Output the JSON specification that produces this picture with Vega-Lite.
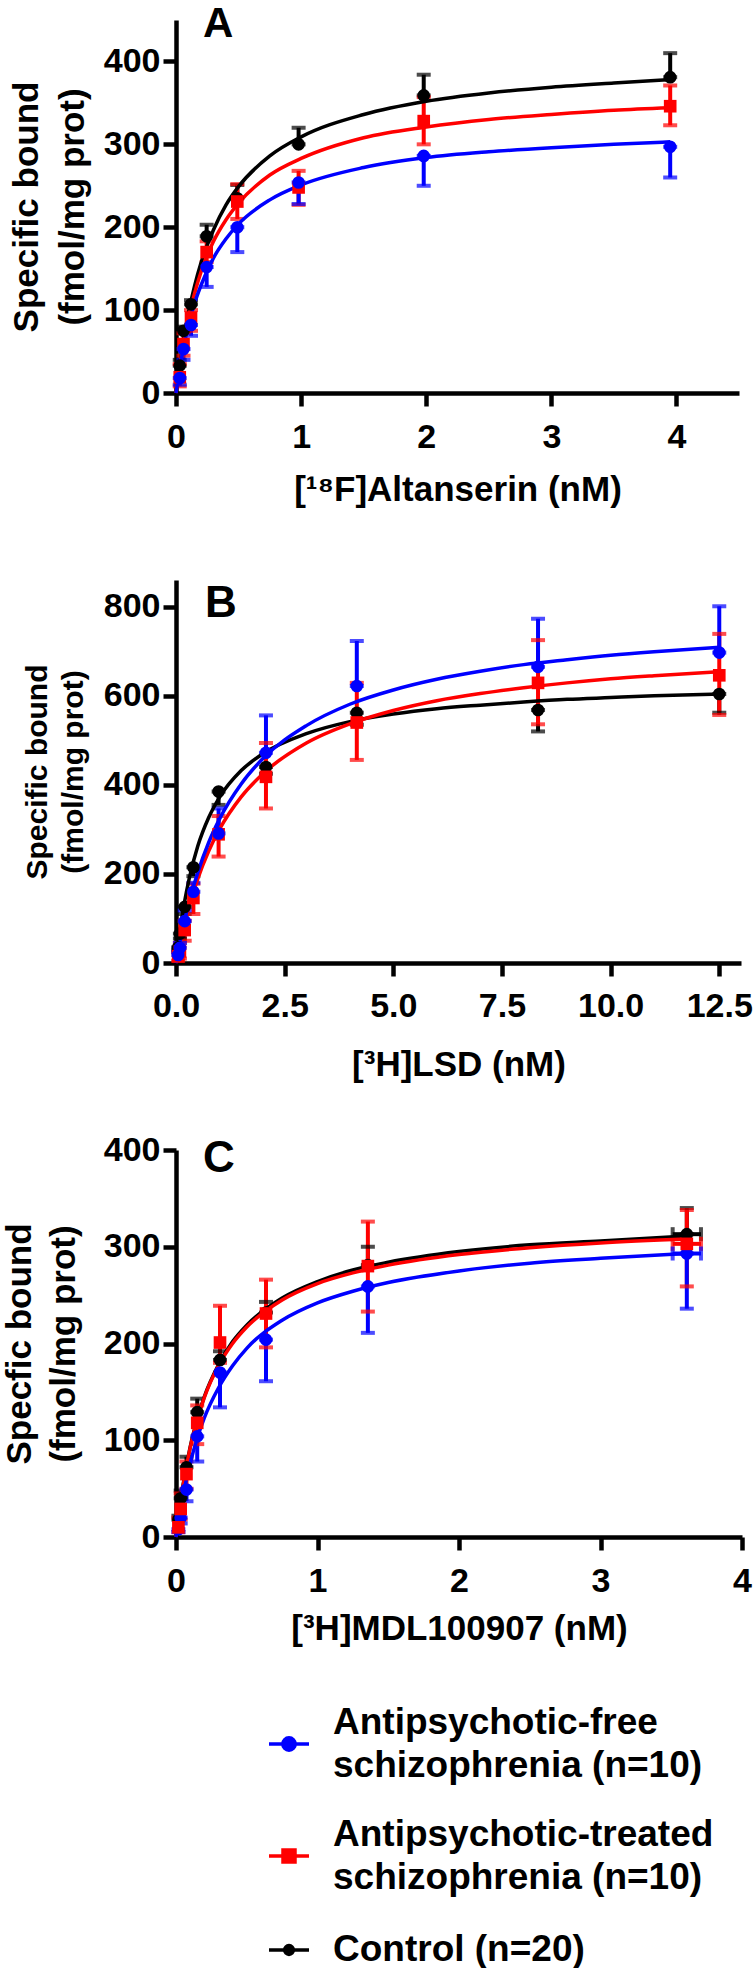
{
  "$schema": "https://vega.github.io/schema/vega-lite/v6.json",
  "background": "white",
  "padding": {"left": 2, "top": 3, "right": 0, "bottom": 0},
  "config": {
    "view": {"stroke": null},
    "font": "Liberation Sans",
    "axis": {
      "grid": false, "domainColor": "black", "domainWidth": 4.5, "tickColor": "black", "tickWidth": 4.5, "tickSize": 13,
      "labelFont": "Liberation Sans", "labelFontSize": 34, "labelFontWeight": "bold", "labelColor": "black",
      "labelFlush": false, "labelOverlap": false, "labelPadding": 3,
      "titleFont": "Liberation Sans", "titleFontSize": 35, "titleFontWeight": "bold", "titleColor": "black"
    },
    "title": {"font": "Liberation Sans", "fontWeight": "bold", "color": "black", "anchor": "start", "frame": "group", "offset": 0, "baseline": "alphabetic"}
  },
  "datasets": {
    "points": [
      {"panel": "A", "group": "Control", "x": 0.03, "y": 33, "lo": 33, "hi": 40},
      {"panel": "A", "group": "Control", "x": 0.06, "y": 75, "lo": 75, "hi": 80},
      {"panel": "A", "group": "Control", "x": 0.12, "y": 107, "lo": 107, "hi": 112},
      {"panel": "A", "group": "Control", "x": 0.245, "y": 189, "lo": 189, "hi": 203},
      {"panel": "A", "group": "Control", "x": 0.49, "y": 235, "lo": 235, "hi": 251},
      {"panel": "A", "group": "Control", "x": 0.98, "y": 300, "lo": 300, "hi": 320},
      {"panel": "A", "group": "Control", "x": 1.98, "y": 359, "lo": 359, "hi": 384},
      {"panel": "A", "group": "Control", "x": 3.95, "y": 381, "lo": 381, "hi": 410},
      {"panel": "A", "group": "Antipsychotic-treated", "x": 0.03, "y": 19, "lo": 8, "hi": 35},
      {"panel": "A", "group": "Antipsychotic-treated", "x": 0.06, "y": 59, "lo": 45, "hi": 72},
      {"panel": "A", "group": "Antipsychotic-treated", "x": 0.12, "y": 91, "lo": 75, "hi": 100},
      {"panel": "A", "group": "Antipsychotic-treated", "x": 0.245, "y": 170, "lo": 158, "hi": 183},
      {"panel": "A", "group": "Antipsychotic-treated", "x": 0.49, "y": 231, "lo": 210, "hi": 252},
      {"panel": "A", "group": "Antipsychotic-treated", "x": 0.98, "y": 248, "lo": 227, "hi": 268},
      {"panel": "A", "group": "Antipsychotic-treated", "x": 1.98, "y": 328, "lo": 300, "hi": 357},
      {"panel": "A", "group": "Antipsychotic-treated", "x": 3.95, "y": 346, "lo": 323, "hi": 371},
      {"panel": "A", "group": "Antipsychotic-free", "x": 0.03, "y": 18, "lo": 10, "hi": 18},
      {"panel": "A", "group": "Antipsychotic-free", "x": 0.06, "y": 53, "lo": 40, "hi": 53},
      {"panel": "A", "group": "Antipsychotic-free", "x": 0.12, "y": 82, "lo": 69, "hi": 82},
      {"panel": "A", "group": "Antipsychotic-free", "x": 0.245, "y": 152, "lo": 128, "hi": 152},
      {"panel": "A", "group": "Antipsychotic-free", "x": 0.49, "y": 200, "lo": 170, "hi": 200},
      {"panel": "A", "group": "Antipsychotic-free", "x": 0.98, "y": 254, "lo": 228, "hi": 254},
      {"panel": "A", "group": "Antipsychotic-free", "x": 1.98, "y": 286, "lo": 250, "hi": 286},
      {"panel": "A", "group": "Antipsychotic-free", "x": 3.95, "y": 297, "lo": 260, "hi": 297},

      {"panel": "B", "group": "Control", "x": 0.05, "y": 35, "lo": 28, "hi": 35},
      {"panel": "B", "group": "Control", "x": 0.09, "y": 66, "lo": 55, "hi": 66},
      {"panel": "B", "group": "Control", "x": 0.2, "y": 126, "lo": 110, "hi": 126},
      {"panel": "B", "group": "Control", "x": 0.4, "y": 215, "lo": 195, "hi": 215},
      {"panel": "B", "group": "Control", "x": 0.98, "y": 385, "lo": 355, "hi": 385},
      {"panel": "B", "group": "Control", "x": 2.07, "y": 440, "lo": 425, "hi": 440},
      {"panel": "B", "group": "Control", "x": 4.16, "y": 562, "lo": 535, "hi": 562},
      {"panel": "B", "group": "Control", "x": 8.33, "y": 568, "lo": 520, "hi": 568},
      {"panel": "B", "group": "Control", "x": 12.5, "y": 604, "lo": 562, "hi": 604},
      {"panel": "B", "group": "Antipsychotic-treated", "x": 0.05, "y": 15, "lo": 5, "hi": 25},
      {"panel": "B", "group": "Antipsychotic-treated", "x": 0.09, "y": 26, "lo": 10, "hi": 45},
      {"panel": "B", "group": "Antipsychotic-treated", "x": 0.2, "y": 74, "lo": 50, "hi": 95},
      {"panel": "B", "group": "Antipsychotic-treated", "x": 0.4, "y": 146, "lo": 110, "hi": 178},
      {"panel": "B", "group": "Antipsychotic-treated", "x": 0.98, "y": 289, "lo": 239, "hi": 330},
      {"panel": "B", "group": "Antipsychotic-treated", "x": 2.07, "y": 418, "lo": 347, "hi": 494},
      {"panel": "B", "group": "Antipsychotic-treated", "x": 4.16, "y": 540, "lo": 456, "hi": 629},
      {"panel": "B", "group": "Antipsychotic-treated", "x": 8.33, "y": 629, "lo": 536, "hi": 725},
      {"panel": "B", "group": "Antipsychotic-treated", "x": 12.5, "y": 646, "lo": 557, "hi": 739},
      {"panel": "B", "group": "Antipsychotic-free", "x": 0.05, "y": 18, "lo": 18, "hi": 25},
      {"panel": "B", "group": "Antipsychotic-free", "x": 0.09, "y": 34, "lo": 34, "hi": 45},
      {"panel": "B", "group": "Antipsychotic-free", "x": 0.2, "y": 94, "lo": 94, "hi": 118},
      {"panel": "B", "group": "Antipsychotic-free", "x": 0.4, "y": 160, "lo": 160, "hi": 180},
      {"panel": "B", "group": "Antipsychotic-free", "x": 0.98, "y": 291, "lo": 291, "hi": 347},
      {"panel": "B", "group": "Antipsychotic-free", "x": 2.07, "y": 472, "lo": 472, "hi": 556},
      {"panel": "B", "group": "Antipsychotic-free", "x": 4.16, "y": 622, "lo": 622, "hi": 723},
      {"panel": "B", "group": "Antipsychotic-free", "x": 8.33, "y": 665, "lo": 665, "hi": 773},
      {"panel": "B", "group": "Antipsychotic-free", "x": 12.5, "y": 697, "lo": 697, "hi": 801},

      {"panel": "C", "group": "Control", "x": 0.017, "y": 18, "lo": 18, "hi": 22},
      {"panel": "C", "group": "Control", "x": 0.033, "y": 40, "lo": 40, "hi": 48},
      {"panel": "C", "group": "Control", "x": 0.074, "y": 72, "lo": 72, "hi": 83},
      {"panel": "C", "group": "Control", "x": 0.15, "y": 129, "lo": 129, "hi": 143},
      {"panel": "C", "group": "Control", "x": 0.311, "y": 183, "lo": 183, "hi": 192},
      {"panel": "C", "group": "Control", "x": 0.636, "y": 232, "lo": 232, "hi": 243},
      {"panel": "C", "group": "Control", "x": 1.356, "y": 281, "lo": 281, "hi": 300},
      {"panel": "C", "group": "Control", "x": 3.61, "y": 313, "lo": 313, "hi": 340, "xlo": 3.51, "xhi": 3.71},
      {"panel": "C", "group": "Antipsychotic-treated", "x": 0.017, "y": 10, "lo": 5, "hi": 20},
      {"panel": "C", "group": "Antipsychotic-treated", "x": 0.033, "y": 29, "lo": 18, "hi": 45},
      {"panel": "C", "group": "Antipsychotic-treated", "x": 0.074, "y": 65, "lo": 50, "hi": 78},
      {"panel": "C", "group": "Antipsychotic-treated", "x": 0.15, "y": 118, "lo": 96, "hi": 136},
      {"panel": "C", "group": "Antipsychotic-treated", "x": 0.311, "y": 201, "lo": 180, "hi": 239},
      {"panel": "C", "group": "Antipsychotic-treated", "x": 0.636, "y": 231, "lo": 196, "hi": 266},
      {"panel": "C", "group": "Antipsychotic-treated", "x": 1.356, "y": 280, "lo": 233, "hi": 326},
      {"panel": "C", "group": "Antipsychotic-treated", "x": 3.61, "y": 303, "lo": 259, "hi": 338, "xlo": 3.51, "xhi": 3.71},
      {"panel": "C", "group": "Antipsychotic-free", "x": 0.017, "y": 8, "lo": 5, "hi": 8},
      {"panel": "C", "group": "Antipsychotic-free", "x": 0.033, "y": 20, "lo": 14, "hi": 20},
      {"panel": "C", "group": "Antipsychotic-free", "x": 0.074, "y": 49, "lo": 37, "hi": 49},
      {"panel": "C", "group": "Antipsychotic-free", "x": 0.15, "y": 104, "lo": 78, "hi": 104},
      {"panel": "C", "group": "Antipsychotic-free", "x": 0.311, "y": 170, "lo": 134, "hi": 170},
      {"panel": "C", "group": "Antipsychotic-free", "x": 0.636, "y": 204, "lo": 161, "hi": 204},
      {"panel": "C", "group": "Antipsychotic-free", "x": 1.356, "y": 259, "lo": 211, "hi": 259},
      {"panel": "C", "group": "Antipsychotic-free", "x": 3.61, "y": 293, "lo": 236, "hi": 293, "xlo": 3.51, "xhi": 3.71}
    ],
    "curves": [
      {"panel": "A", "group": "Control", "x": 0, "y": 0},
      {"panel": "A", "group": "Control", "x": 0.05, "y": 55},
      {"panel": "A", "group": "Control", "x": 0.1, "y": 97},
      {"panel": "A", "group": "Control", "x": 0.15, "y": 130},
      {"panel": "A", "group": "Control", "x": 0.2, "y": 157},
      {"panel": "A", "group": "Control", "x": 0.3, "y": 197},
      {"panel": "A", "group": "Control", "x": 0.4, "y": 227},
      {"panel": "A", "group": "Control", "x": 0.5, "y": 249},
      {"panel": "A", "group": "Control", "x": 0.75, "y": 286},
      {"panel": "A", "group": "Control", "x": 1, "y": 309},
      {"panel": "A", "group": "Control", "x": 1.5, "y": 336},
      {"panel": "A", "group": "Control", "x": 2, "y": 352},
      {"panel": "A", "group": "Control", "x": 2.5, "y": 362},
      {"panel": "A", "group": "Control", "x": 3, "y": 369},
      {"panel": "A", "group": "Control", "x": 3.5, "y": 374},
      {"panel": "A", "group": "Control", "x": 3.95, "y": 378},
      {"panel": "A", "group": "Antipsychotic-treated", "x": 0, "y": 0},
      {"panel": "A", "group": "Antipsychotic-treated", "x": 0.05, "y": 52},
      {"panel": "A", "group": "Antipsychotic-treated", "x": 0.1, "y": 91},
      {"panel": "A", "group": "Antipsychotic-treated", "x": 0.15, "y": 121},
      {"panel": "A", "group": "Antipsychotic-treated", "x": 0.2, "y": 146},
      {"panel": "A", "group": "Antipsychotic-treated", "x": 0.3, "y": 183},
      {"panel": "A", "group": "Antipsychotic-treated", "x": 0.4, "y": 209},
      {"panel": "A", "group": "Antipsychotic-treated", "x": 0.5, "y": 229},
      {"panel": "A", "group": "Antipsychotic-treated", "x": 0.75, "y": 263},
      {"panel": "A", "group": "Antipsychotic-treated", "x": 1, "y": 283},
      {"panel": "A", "group": "Antipsychotic-treated", "x": 1.5, "y": 308},
      {"panel": "A", "group": "Antipsychotic-treated", "x": 2, "y": 321},
      {"panel": "A", "group": "Antipsychotic-treated", "x": 2.5, "y": 330},
      {"panel": "A", "group": "Antipsychotic-treated", "x": 3, "y": 336},
      {"panel": "A", "group": "Antipsychotic-treated", "x": 3.5, "y": 341},
      {"panel": "A", "group": "Antipsychotic-treated", "x": 3.95, "y": 344},
      {"panel": "A", "group": "Antipsychotic-free", "x": 0, "y": 0},
      {"panel": "A", "group": "Antipsychotic-free", "x": 0.05, "y": 47},
      {"panel": "A", "group": "Antipsychotic-free", "x": 0.1, "y": 82},
      {"panel": "A", "group": "Antipsychotic-free", "x": 0.15, "y": 109},
      {"panel": "A", "group": "Antipsychotic-free", "x": 0.2, "y": 130},
      {"panel": "A", "group": "Antipsychotic-free", "x": 0.3, "y": 163},
      {"panel": "A", "group": "Antipsychotic-free", "x": 0.4, "y": 186},
      {"panel": "A", "group": "Antipsychotic-free", "x": 0.5, "y": 204},
      {"panel": "A", "group": "Antipsychotic-free", "x": 0.75, "y": 233},
      {"panel": "A", "group": "Antipsychotic-free", "x": 1, "y": 251},
      {"panel": "A", "group": "Antipsychotic-free", "x": 1.5, "y": 272},
      {"panel": "A", "group": "Antipsychotic-free", "x": 2, "y": 284},
      {"panel": "A", "group": "Antipsychotic-free", "x": 2.5, "y": 291},
      {"panel": "A", "group": "Antipsychotic-free", "x": 3, "y": 296},
      {"panel": "A", "group": "Antipsychotic-free", "x": 3.5, "y": 300},
      {"panel": "A", "group": "Antipsychotic-free", "x": 3.95, "y": 303},

      {"panel": "B", "group": "Control", "x": 0, "y": 0},
      {"panel": "B", "group": "Control", "x": 0.1, "y": 78},
      {"panel": "B", "group": "Control", "x": 0.2, "y": 139},
      {"panel": "B", "group": "Control", "x": 0.3, "y": 188},
      {"panel": "B", "group": "Control", "x": 0.5, "y": 262},
      {"panel": "B", "group": "Control", "x": 0.75, "y": 326},
      {"panel": "B", "group": "Control", "x": 1, "y": 372},
      {"panel": "B", "group": "Control", "x": 1.5, "y": 432},
      {"panel": "B", "group": "Control", "x": 2, "y": 470},
      {"panel": "B", "group": "Control", "x": 3, "y": 515},
      {"panel": "B", "group": "Control", "x": 4, "y": 542},
      {"panel": "B", "group": "Control", "x": 5, "y": 559},
      {"panel": "B", "group": "Control", "x": 6, "y": 571},
      {"panel": "B", "group": "Control", "x": 7, "y": 579},
      {"panel": "B", "group": "Control", "x": 8, "y": 586},
      {"panel": "B", "group": "Control", "x": 9, "y": 592},
      {"panel": "B", "group": "Control", "x": 10, "y": 596},
      {"panel": "B", "group": "Control", "x": 11, "y": 600},
      {"panel": "B", "group": "Control", "x": 12.5, "y": 604},
      {"panel": "B", "group": "Antipsychotic-treated", "x": 0, "y": 0},
      {"panel": "B", "group": "Antipsychotic-treated", "x": 0.1, "y": 48},
      {"panel": "B", "group": "Antipsychotic-treated", "x": 0.2, "y": 89},
      {"panel": "B", "group": "Antipsychotic-treated", "x": 0.3, "y": 126},
      {"panel": "B", "group": "Antipsychotic-treated", "x": 0.5, "y": 189},
      {"panel": "B", "group": "Antipsychotic-treated", "x": 0.75, "y": 251},
      {"panel": "B", "group": "Antipsychotic-treated", "x": 1, "y": 300},
      {"panel": "B", "group": "Antipsychotic-treated", "x": 1.5, "y": 373},
      {"panel": "B", "group": "Antipsychotic-treated", "x": 2, "y": 425},
      {"panel": "B", "group": "Antipsychotic-treated", "x": 3, "y": 494},
      {"panel": "B", "group": "Antipsychotic-treated", "x": 4, "y": 537},
      {"panel": "B", "group": "Antipsychotic-treated", "x": 5, "y": 567},
      {"panel": "B", "group": "Antipsychotic-treated", "x": 6, "y": 589},
      {"panel": "B", "group": "Antipsychotic-treated", "x": 7, "y": 605},
      {"panel": "B", "group": "Antipsychotic-treated", "x": 8, "y": 618},
      {"panel": "B", "group": "Antipsychotic-treated", "x": 9, "y": 629},
      {"panel": "B", "group": "Antipsychotic-treated", "x": 10, "y": 638},
      {"panel": "B", "group": "Antipsychotic-treated", "x": 11, "y": 645},
      {"panel": "B", "group": "Antipsychotic-treated", "x": 12.5, "y": 654},
      {"panel": "B", "group": "Antipsychotic-free", "x": 0, "y": 0},
      {"panel": "B", "group": "Antipsychotic-free", "x": 0.1, "y": 51},
      {"panel": "B", "group": "Antipsychotic-free", "x": 0.2, "y": 96},
      {"panel": "B", "group": "Antipsychotic-free", "x": 0.3, "y": 136},
      {"panel": "B", "group": "Antipsychotic-free", "x": 0.5, "y": 203},
      {"panel": "B", "group": "Antipsychotic-free", "x": 0.75, "y": 270},
      {"panel": "B", "group": "Antipsychotic-free", "x": 1, "y": 323},
      {"panel": "B", "group": "Antipsychotic-free", "x": 1.5, "y": 402},
      {"panel": "B", "group": "Antipsychotic-free", "x": 2, "y": 459},
      {"panel": "B", "group": "Antipsychotic-free", "x": 3, "y": 533},
      {"panel": "B", "group": "Antipsychotic-free", "x": 4, "y": 581},
      {"panel": "B", "group": "Antipsychotic-free", "x": 5, "y": 613},
      {"panel": "B", "group": "Antipsychotic-free", "x": 6, "y": 637},
      {"panel": "B", "group": "Antipsychotic-free", "x": 7, "y": 655},
      {"panel": "B", "group": "Antipsychotic-free", "x": 8, "y": 670},
      {"panel": "B", "group": "Antipsychotic-free", "x": 9, "y": 681},
      {"panel": "B", "group": "Antipsychotic-free", "x": 10, "y": 691},
      {"panel": "B", "group": "Antipsychotic-free", "x": 11, "y": 699},
      {"panel": "B", "group": "Antipsychotic-free", "x": 12.5, "y": 709},

      {"panel": "C", "group": "Control", "x": 0, "y": 0},
      {"panel": "C", "group": "Control", "x": 0.02, "y": 24},
      {"panel": "C", "group": "Control", "x": 0.05, "y": 54},
      {"panel": "C", "group": "Control", "x": 0.1, "y": 93},
      {"panel": "C", "group": "Control", "x": 0.15, "y": 122},
      {"panel": "C", "group": "Control", "x": 0.2, "y": 145},
      {"panel": "C", "group": "Control", "x": 0.3, "y": 178},
      {"panel": "C", "group": "Control", "x": 0.4, "y": 202},
      {"panel": "C", "group": "Control", "x": 0.5, "y": 219},
      {"panel": "C", "group": "Control", "x": 0.75, "y": 247},
      {"panel": "C", "group": "Control", "x": 1, "y": 264},
      {"panel": "C", "group": "Control", "x": 1.25, "y": 276},
      {"panel": "C", "group": "Control", "x": 1.5, "y": 284},
      {"panel": "C", "group": "Control", "x": 2, "y": 295},
      {"panel": "C", "group": "Control", "x": 2.5, "y": 302},
      {"panel": "C", "group": "Control", "x": 3, "y": 306},
      {"panel": "C", "group": "Control", "x": 3.61, "y": 311},
      {"panel": "C", "group": "Antipsychotic-treated", "x": 0, "y": 0},
      {"panel": "C", "group": "Antipsychotic-treated", "x": 0.02, "y": 24},
      {"panel": "C", "group": "Antipsychotic-treated", "x": 0.05, "y": 53},
      {"panel": "C", "group": "Antipsychotic-treated", "x": 0.1, "y": 92},
      {"panel": "C", "group": "Antipsychotic-treated", "x": 0.15, "y": 121},
      {"panel": "C", "group": "Antipsychotic-treated", "x": 0.2, "y": 144},
      {"panel": "C", "group": "Antipsychotic-treated", "x": 0.3, "y": 177},
      {"panel": "C", "group": "Antipsychotic-treated", "x": 0.4, "y": 200},
      {"panel": "C", "group": "Antipsychotic-treated", "x": 0.5, "y": 217},
      {"panel": "C", "group": "Antipsychotic-treated", "x": 0.75, "y": 245},
      {"panel": "C", "group": "Antipsychotic-treated", "x": 1, "y": 262},
      {"panel": "C", "group": "Antipsychotic-treated", "x": 1.25, "y": 273},
      {"panel": "C", "group": "Antipsychotic-treated", "x": 1.5, "y": 281},
      {"panel": "C", "group": "Antipsychotic-treated", "x": 2, "y": 292},
      {"panel": "C", "group": "Antipsychotic-treated", "x": 2.5, "y": 299},
      {"panel": "C", "group": "Antipsychotic-treated", "x": 3, "y": 304},
      {"panel": "C", "group": "Antipsychotic-treated", "x": 3.61, "y": 308},
      {"panel": "C", "group": "Antipsychotic-free", "x": 0, "y": 0},
      {"panel": "C", "group": "Antipsychotic-free", "x": 0.02, "y": 19},
      {"panel": "C", "group": "Antipsychotic-free", "x": 0.05, "y": 43},
      {"panel": "C", "group": "Antipsychotic-free", "x": 0.1, "y": 76},
      {"panel": "C", "group": "Antipsychotic-free", "x": 0.15, "y": 102},
      {"panel": "C", "group": "Antipsychotic-free", "x": 0.2, "y": 123},
      {"panel": "C", "group": "Antipsychotic-free", "x": 0.3, "y": 154},
      {"panel": "C", "group": "Antipsychotic-free", "x": 0.4, "y": 177},
      {"panel": "C", "group": "Antipsychotic-free", "x": 0.5, "y": 195},
      {"panel": "C", "group": "Antipsychotic-free", "x": 0.75, "y": 224},
      {"panel": "C", "group": "Antipsychotic-free", "x": 1, "y": 242},
      {"panel": "C", "group": "Antipsychotic-free", "x": 1.25, "y": 254},
      {"panel": "C", "group": "Antipsychotic-free", "x": 1.5, "y": 263},
      {"panel": "C", "group": "Antipsychotic-free", "x": 2, "y": 275},
      {"panel": "C", "group": "Antipsychotic-free", "x": 2.5, "y": 283},
      {"panel": "C", "group": "Antipsychotic-free", "x": 3, "y": 288},
      {"panel": "C", "group": "Antipsychotic-free", "x": 3.61, "y": 293}
    ]
  },
  "bounds": "flush",
  "spacing": 187,
  "resolve": {"scale": {"color": "independent", "shape": "independent"}, "legend": {"color": "independent", "shape": "independent"}},
  "vconcat": [
    {
      "width": 563, "height": 373,
      "title": {"text": "A", "fontSize": 42, "dx": 27, "dy": 30},
      "encoding": {
        "x": {"field": "x", "type": "quantitative", "scale": {"domain": [0, 4.5], "nice": false}, "axis": {"values": [0, 1, 2, 3, 4], "format": "d", "title": "[¹⁸F]Altanserin (nM)", "labelPadding": 14, "titlePadding": 18}},
        "color": {"field": "group", "type": "nominal", "scale": {"domain": ["Antipsychotic-free", "Antipsychotic-treated", "Control"], "range": ["#0000ff", "#ff0000", "#000000"]}, "legend": null}
      },
      "layer": [
        {
          "data": {"name": "points"}, "transform": [{"filter": "datum.panel == 'A'"}],
          "mark": {"type": "rule", "strokeWidth": 4},
          "encoding": {
            "y": {"field": "lo", "type": "quantitative", "scale": {"domain": [0, 450], "nice": false}, "axis": {"values": [0, 100, 200, 300, 400], "title": ["Specific bound", "(fmol/mg prot)"], "titlePadding": 13, "titleLineHeight": 46}},
            "y2": {"field": "hi"}
          }
        },
        {
          "data": {"name": "points"}, "transform": [{"filter": "datum.panel == 'A'"}, {"fold": ["lo", "hi"], "as": ["end", "v"]}],
          "mark": {"type": "tick", "orient": "horizontal", "size": 14, "thickness": 4},
          "encoding": {
            "y": {"field": "v", "type": "quantitative", "scale": {"domain": [0, 450], "nice": false}, "axis": {"values": [0, 100, 200, 300, 400], "title": ["Specific bound", "(fmol/mg prot)"], "titlePadding": 13, "titleLineHeight": 46}}
          }
        },
        {
          "data": {"name": "curves"}, "transform": [{"filter": "datum.panel == 'A'"}],
          "mark": {"type": "line", "strokeWidth": 3.5, "interpolate": "monotone"},
          "encoding": {
            "y": {"field": "y", "type": "quantitative", "scale": {"domain": [0, 450], "nice": false}, "axis": {"values": [0, 100, 200, 300, 400], "title": ["Specific bound", "(fmol/mg prot)"], "titlePadding": 13, "titleLineHeight": 46}},
            "order": {"field": "x", "type": "quantitative"}
          }
        },
        {
          "data": {"name": "points"}, "transform": [{"filter": "datum.panel == 'A'"}],
          "mark": {"type": "point", "filled": true, "opacity": 1, "size": 160},
          "encoding": {
            "y": {"field": "y", "type": "quantitative", "scale": {"domain": [0, 450], "nice": false}, "axis": {"values": [0, 100, 200, 300, 400], "title": ["Specific bound", "(fmol/mg prot)"], "titlePadding": 13, "titleLineHeight": 46}},
            "shape": {"field": "group", "type": "nominal", "scale": {"domain": ["Antipsychotic-free", "Antipsychotic-treated", "Control"], "range": ["circle", "square", "circle"]}, "legend": null}
          }
        }
      ]
    },
    {
      "width": 565, "height": 383,
      "title": {"text": "B", "fontSize": 44, "dx": 29, "dy": 50},
      "encoding": {
        "x": {"field": "x", "type": "quantitative", "scale": {"domain": [0, 13], "nice": false}, "axis": {"values": [0, 2.5, 5, 7.5, 10, 12.5], "format": ".1f", "title": "[³H]LSD (nM)", "labelPadding": 13, "titlePadding": 24}},
        "color": {"field": "group", "type": "nominal", "scale": {"domain": ["Antipsychotic-free", "Antipsychotic-treated", "Control"], "range": ["#0000ff", "#ff0000", "#000000"]}, "legend": null}
      },
      "layer": [
        {
          "data": {"name": "points"}, "transform": [{"filter": "datum.panel == 'B'"}],
          "mark": {"type": "rule", "strokeWidth": 4},
          "encoding": {
            "y": {"field": "lo", "type": "quantitative", "scale": {"domain": [0, 860], "nice": false}, "axis": {"values": [0, 200, 400, 600, 800], "title": ["Specific bound", "(fmol/mg prot)"], "titleFontSize": 30, "titlePadding": 15, "titleLineHeight": 36}},
            "y2": {"field": "hi"}
          }
        },
        {
          "data": {"name": "points"}, "transform": [{"filter": "datum.panel == 'B'"}, {"fold": ["lo", "hi"], "as": ["end", "v"]}],
          "mark": {"type": "tick", "orient": "horizontal", "size": 14, "thickness": 4},
          "encoding": {
            "y": {"field": "v", "type": "quantitative", "scale": {"domain": [0, 860], "nice": false}, "axis": {"values": [0, 200, 400, 600, 800], "title": ["Specific bound", "(fmol/mg prot)"], "titleFontSize": 30, "titlePadding": 15, "titleLineHeight": 36}}
          }
        },
        {
          "data": {"name": "curves"}, "transform": [{"filter": "datum.panel == 'B'"}],
          "mark": {"type": "line", "strokeWidth": 3.5, "interpolate": "monotone"},
          "encoding": {
            "y": {"field": "y", "type": "quantitative", "scale": {"domain": [0, 860], "nice": false}, "axis": {"values": [0, 200, 400, 600, 800], "title": ["Specific bound", "(fmol/mg prot)"], "titleFontSize": 30, "titlePadding": 15, "titleLineHeight": 36}},
            "order": {"field": "x", "type": "quantitative"}
          }
        },
        {
          "data": {"name": "points"}, "transform": [{"filter": "datum.panel == 'B'"}],
          "mark": {"type": "point", "filled": true, "opacity": 1, "size": 160},
          "encoding": {
            "y": {"field": "y", "type": "quantitative", "scale": {"domain": [0, 860], "nice": false}, "axis": {"values": [0, 200, 400, 600, 800], "title": ["Specific bound", "(fmol/mg prot)"], "titleFontSize": 30, "titlePadding": 15, "titleLineHeight": 36}},
            "shape": {"field": "group", "type": "nominal", "scale": {"domain": ["Antipsychotic-free", "Antipsychotic-treated", "Control"], "range": ["circle", "square", "circle"]}, "legend": null}
          }
        }
      ]
    },
    {
      "width": 566, "height": 387,
      "title": {"text": "C", "fontSize": 44, "dx": 27, "dy": 52},
      "encoding": {
        "x": {"field": "x", "type": "quantitative", "scale": {"domain": [0, 4], "nice": false}, "axis": {"values": [0, 1, 2, 3, 4], "format": "d", "title": "[³H]MDL100907 (nM)", "labelPadding": 14, "titlePadding": 13}},
        "color": {"field": "group", "type": "nominal", "scale": {"domain": ["Antipsychotic-free", "Antipsychotic-treated", "Control"], "range": ["#0000ff", "#ff0000", "#000000"]},
          "legend": {
            "orient": "none", "legendX": 91, "legendY": 572, "direction": "vertical", "title": null, "padding": 0,
            "labelFont": "Liberation Sans", "labelFontSize": 37, "labelFontWeight": "bold", "labelColor": "black", "labelLimit": 1000, "labelOffset": 22,
            "symbolSize": 1600, "rowPadding": 32,
            "labelExpr": "datum.label == 'Antipsychotic-free' ? ['Antipsychotic-free', 'schizophrenia (n=10)'] : datum.label == 'Antipsychotic-treated' ? ['Antipsychotic-treated', 'schizophrenia (n=10)'] : 'Control (n=20)'",
            "encode": {
              "symbols": {"update": {
                "shape": {"signal": "datum.value == 'Antipsychotic-treated' ? 'M-1,0H1M-0.3,-0.3H0.3V0.3H-0.3Z' : datum.value == 'Control' ? 'M-1,0H1M-0.22,0A0.22,0.22 0 1,1 0.22,0A0.22,0.22 0 1,1 -0.22,0' : 'M-1,0H1M-0.31,0A0.31,0.31 0 1,1 0.31,0A0.31,0.31 0 1,1 -0.31,0'"},
                "fill": {"signal": "datum.value == 'Antipsychotic-free' ? '#0000ff' : datum.value == 'Antipsychotic-treated' ? '#ff0000' : '#000000'"},
                "stroke": {"signal": "datum.value == 'Antipsychotic-free' ? '#0000ff' : datum.value == 'Antipsychotic-treated' ? '#ff0000' : '#000000'"},
                "strokeWidth": {"value": 3.5},
                "size": {"value": 1600},
                "opacity": {"value": 1}
              }},
              "labels": {"update": {"lineHeight": {"value": 43}, "dy": {"signal": "datum.value == 'Control' ? 0 : -21"}}}
            }
          }
        }
      },
      "layer": [
        {
          "data": {"name": "points"}, "transform": [{"filter": "datum.panel == 'C'"}],
          "mark": {"type": "rule", "strokeWidth": 4},
          "encoding": {
            "y": {"field": "lo", "type": "quantitative", "scale": {"domain": [0, 400], "nice": false}, "axis": {"values": [0, 100, 200, 300, 400], "title": ["Specfic bound", "(fmol/mg prot)"], "titlePadding": 22, "titleLineHeight": 44}},
            "y2": {"field": "hi"}
          }
        },
        {
          "data": {"name": "points"}, "transform": [{"filter": "datum.panel == 'C'"}, {"fold": ["lo", "hi"], "as": ["end", "v"]}],
          "mark": {"type": "tick", "orient": "horizontal", "size": 14, "thickness": 4},
          "encoding": {
            "y": {"field": "v", "type": "quantitative", "scale": {"domain": [0, 400], "nice": false}, "axis": {"values": [0, 100, 200, 300, 400], "title": ["Specfic bound", "(fmol/mg prot)"], "titlePadding": 22, "titleLineHeight": 44}}
          }
        },
        {
          "data": {"name": "points"}, "transform": [{"filter": "datum.panel == 'C' && isValid(datum.xlo)"}],
          "mark": {"type": "rule", "strokeWidth": 4},
          "encoding": {
            "x": {"field": "xlo", "type": "quantitative", "scale": {"domain": [0, 4], "nice": false}, "axis": {"values": [0, 1, 2, 3, 4], "format": "d", "title": "[³H]MDL100907 (nM)", "labelPadding": 14, "titlePadding": 13}},
            "x2": {"field": "xhi"},
            "y": {"field": "y", "type": "quantitative", "scale": {"domain": [0, 400], "nice": false}, "axis": {"values": [0, 100, 200, 300, 400], "title": ["Specfic bound", "(fmol/mg prot)"], "titlePadding": 22, "titleLineHeight": 44}}
          }
        },
        {
          "data": {"name": "points"}, "transform": [{"filter": "datum.panel == 'C' && isValid(datum.xlo)"}, {"fold": ["xlo", "xhi"], "as": ["end", "xv"]}],
          "mark": {"type": "tick", "orient": "vertical", "size": 14, "thickness": 4},
          "encoding": {
            "x": {"field": "xv", "type": "quantitative", "scale": {"domain": [0, 4], "nice": false}, "axis": {"values": [0, 1, 2, 3, 4], "format": "d", "title": "[³H]MDL100907 (nM)", "labelPadding": 14, "titlePadding": 13}},
            "y": {"field": "y", "type": "quantitative", "scale": {"domain": [0, 400], "nice": false}, "axis": {"values": [0, 100, 200, 300, 400], "title": ["Specfic bound", "(fmol/mg prot)"], "titlePadding": 22, "titleLineHeight": 44}}
          }
        },
        {
          "data": {"name": "curves"}, "transform": [{"filter": "datum.panel == 'C'"}],
          "mark": {"type": "line", "strokeWidth": 3.5, "interpolate": "monotone"},
          "encoding": {
            "y": {"field": "y", "type": "quantitative", "scale": {"domain": [0, 400], "nice": false}, "axis": {"values": [0, 100, 200, 300, 400], "title": ["Specfic bound", "(fmol/mg prot)"], "titlePadding": 22, "titleLineHeight": 44}},
            "order": {"field": "x", "type": "quantitative"}
          }
        },
        {
          "data": {"name": "points"}, "transform": [{"filter": "datum.panel == 'C' && datum.group != 'Antipsychotic-treated'"}],
          "mark": {"type": "point", "filled": true, "opacity": 1, "size": 160, "shape": "circle"},
          "encoding": {
            "y": {"field": "y", "type": "quantitative", "scale": {"domain": [0, 400], "nice": false}, "axis": {"values": [0, 100, 200, 300, 400], "title": ["Specfic bound", "(fmol/mg prot)"], "titlePadding": 22, "titleLineHeight": 44}}
          }
        },
        {
          "data": {"name": "points"}, "transform": [{"filter": "datum.panel == 'C' && datum.group == 'Antipsychotic-treated'"}],
          "mark": {"type": "point", "filled": true, "opacity": 1, "size": 160, "shape": "square"},
          "encoding": {
            "y": {"field": "y", "type": "quantitative", "scale": {"domain": [0, 400], "nice": false}, "axis": {"values": [0, 100, 200, 300, 400], "title": ["Specfic bound", "(fmol/mg prot)"], "titlePadding": 22, "titleLineHeight": 44}}
          }
        }
      ]
    }
  ]
}
